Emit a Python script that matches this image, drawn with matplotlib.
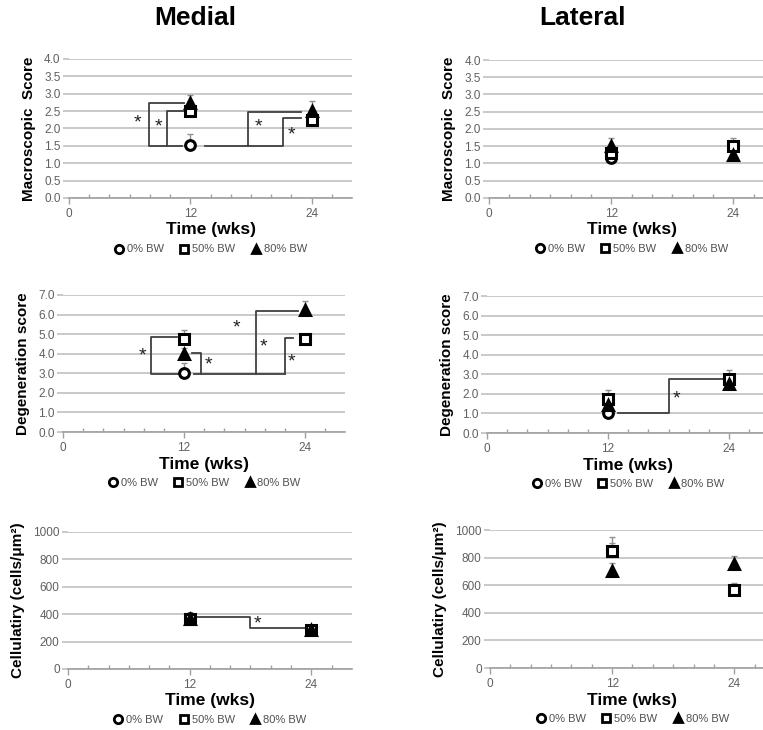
import matplotlib.pyplot as plt
from matplotlib.lines import Line2D
import numpy as np

plt.rcParams['font.family'] = ['Liberation Sans', 'DejaVu Sans']

groups = ['0% BW', '50% BW', '80% BW']
markers = ['o', 's', '^']
fills = ['white', 'white', 'black']

# time points for each group (0% BW was only measured at 12 wks)
times = [[12], [12, 24], [12, 24]]

# medial, macroscopic score
med_macro = [[1.52], [2.5, 2.25], [2.72, 2.5]]
med_macro_err = [[0.33], [0.15, 0.15], [0.23, 0.3]]
# lateral, macroscopic score
lat_macro = [[1.17], [1.3, 1.5], [1.5, 1.25]]
lat_macro_err = [[0.15], [0.2, 0.23], [0.25, 0.1]]
# medial, degeneration score
med_deg = [[3.0], [4.75, 4.75], [4.0, 6.25]]
med_deg_err = [[0.55], [0.45, 0.2], [0.3, 0.45]]
# lateral, degeneration score
lat_deg = [[1.0], [1.75, 2.75], [1.45, 2.5]]
lat_deg_err = [[0.3], [0.45, 0.45], [0.3, 0.3]]
# medial, cellularity
med_cell = [[370], [362, 285], [368, 288]]
med_cell_err = [[20], [20, 15], [20, 15]]
# lateral, cellularity
lat_cell = [[850], [845, 565], [700, 755]]
lat_cell_err = [[100], [60, 50], [60, 55]]

# significance brackets: polylines (x, y) in data units, star positions
med_macro_br = [([11.2, 7.9, 7.9, 11.4], [1.5, 1.5, 2.73, 2.73]),
                ([9.7, 9.7, 11.3], [1.5, 2.5, 2.5]),
                ([13.5, 17.7, 17.7, 23.0], [1.5, 1.5, 2.48, 2.48]),
                ([17.7, 21.2, 21.2, 23.0], [1.5, 1.5, 2.3, 2.3])]
med_macro_star = [(6.8, 2.15), (8.9, 2.05), (18.7, 2.05), (22.0, 1.8)]

med_deg_br = [([11.4, 8.7, 8.7, 11.3], [2.95, 2.95, 4.85, 4.85]),
              ([12.8, 13.7, 13.7], [4.05, 4.05, 2.95]),
              ([13.0, 22.0], [2.95, 2.95]),
              ([19.1, 19.1, 23.3], [2.95, 6.2, 6.2]),
              ([22.0, 22.0, 22.8], [2.95, 4.8, 4.8])]
med_deg_star = [(7.9, 3.9), (14.4, 3.4), (17.2, 5.3), (19.9, 4.35), (22.7, 3.6)]

lat_deg_br = [([13.0, 18.05, 18.05, 23.8], [1.0, 1.0, 2.75, 2.75])]
lat_deg_star = [(18.75, 1.75)]

med_cell_br = [([12.7, 18.0, 18.0, 23.5], [380, 380, 298, 298])]
med_cell_star = [(18.7, 330)]

panels = [
    # rect, means, errs, ylim, yticks, fmt, ylabel, brackets, stars
    ([0.0904, 0.7288, 0.371, 0.1904], med_macro, med_macro_err, 4.0,
     np.arange(0, 4.01, 0.5), '{:.1f}', 'Macroscopic  Score', med_macro_br, med_macro_star),
    ([0.641, 0.7288, 0.3735, 0.189], lat_macro, lat_macro_err, 4.0,
     np.arange(0, 4.01, 0.5), '{:.1f}', 'Macroscopic  Score', [], []),
    ([0.0826, 0.4082, 0.370, 0.1877], med_deg, med_deg_err, 7.0,
     np.arange(0, 7.01, 1.0), '{:.1f}', 'Degeneration score', med_deg_br, med_deg_star),
    ([0.6383, 0.4068, 0.370, 0.1877], lat_deg, lat_deg_err, 7.0,
     np.arange(0, 7.01, 1.0), '{:.1f}', 'Degeneration score', lat_deg_br, lat_deg_star),
    ([0.0891, 0.0836, 0.372, 0.1877], med_cell, med_cell_err, 1000,
     np.arange(0, 1001, 200), '{:.0f}', 'Cellulatiry (cells/\u03bcm\u00b2)', med_cell_br, med_cell_star),
    ([0.6422, 0.0849, 0.3735, 0.189], lat_cell, lat_cell_err, 1000,
     np.arange(0, 1001, 200), '{:.0f}', 'Cellulatiry (cells/\u03bcm\u00b2)', [], []),
]

fig = plt.figure(figsize=(7.63, 7.30), dpi=100)
grid_c = '#c0c0c0'
tick_c = '#606060'
msize = {'o': 7, 's': 6.5, '^': 7.5}

for rect, means, errs, ytop, yticks, fmt, ylabel, brs, stars in panels:
    ax = fig.add_axes(rect)
    ax.set_xlim(0, 28)
    ax.set_ylim(0, ytop)
    ax.set_yticks(yticks)
    ax.set_yticklabels([fmt.format(v) for v in yticks])
    ax.set_xticks([0, 12, 24])
    ax.set_xticks(np.arange(2, 28, 2), minor=True)
    ax.grid(axis='y', color=grid_c, linewidth=1.2)
    ax.set_axisbelow(True)
    for s in ['top', 'right', 'left']:
        ax.spines[s].set_visible(False)
    ax.spines['bottom'].set_color('#a0a0a0')
    ax.spines['bottom'].set_linewidth(1.2)
    ax.tick_params(axis='y', colors=grid_c, labelcolor=tick_c, labelsize=8.5, length=4, width=1.2, pad=2)
    ax.tick_params(axis='x', which='major', colors='#a0a0a0', labelcolor=tick_c, labelsize=8.5,
                   length=4, width=1, pad=3)
    ax.tick_params(axis='x', which='minor', colors='#a0a0a0', length=3, width=1, direction='in')
    ax.set_ylabel(ylabel, fontsize=11, fontweight='bold', labelpad=6)
    ax.set_xlabel('Time (wks)', fontsize=12.5, fontweight='bold', labelpad=2)

    for xs, ys in brs:
        ax.plot(xs, ys, color='#404040', linewidth=1.3, zorder=2)
    for sx, sy in stars:
        ax.text(sx, sy, '*', fontsize=14, ha='center', va='center', color='#202020')

    for t, m, e, mk, fc in zip(times, means, errs, markers, fills):
        ax.errorbar(t, m, yerr=[np.zeros(len(e)), e], fmt='none', ecolor='#909090',
                    elinewidth=1, capsize=2.5, capthick=1, zorder=3)
        ax.plot(t, m, linestyle='none', marker=mk, markersize=msize[mk],
                markerfacecolor=fc, markeredgecolor='black', markeredgewidth=2.2, zorder=4)

    handles = [Line2D([], [], linestyle='none', marker=mk, markersize=6, markerfacecolor=fc,
                      markeredgecolor='black', markeredgewidth=2) for mk, fc in zip(markers, fills)]
    leg = ax.legend(handles, groups, loc='center', bbox_to_anchor=(0.5, -0.37), ncol=3,
                    frameon=False, fontsize=8, handlelength=0.9, handletextpad=0.25,
                    columnspacing=1.4, borderaxespad=0)
    for txt in leg.get_texts():
        txt.set_color('#505050')

fig.text(0.2555, 0.975, 'Medial', fontsize=19, fontweight='bold', ha='center', va='center')
fig.text(0.763, 0.975, 'Lateral', fontsize=19, fontweight='bold', ha='center', va='center')

fig.savefig('out.png', dpi=100, facecolor='white')
